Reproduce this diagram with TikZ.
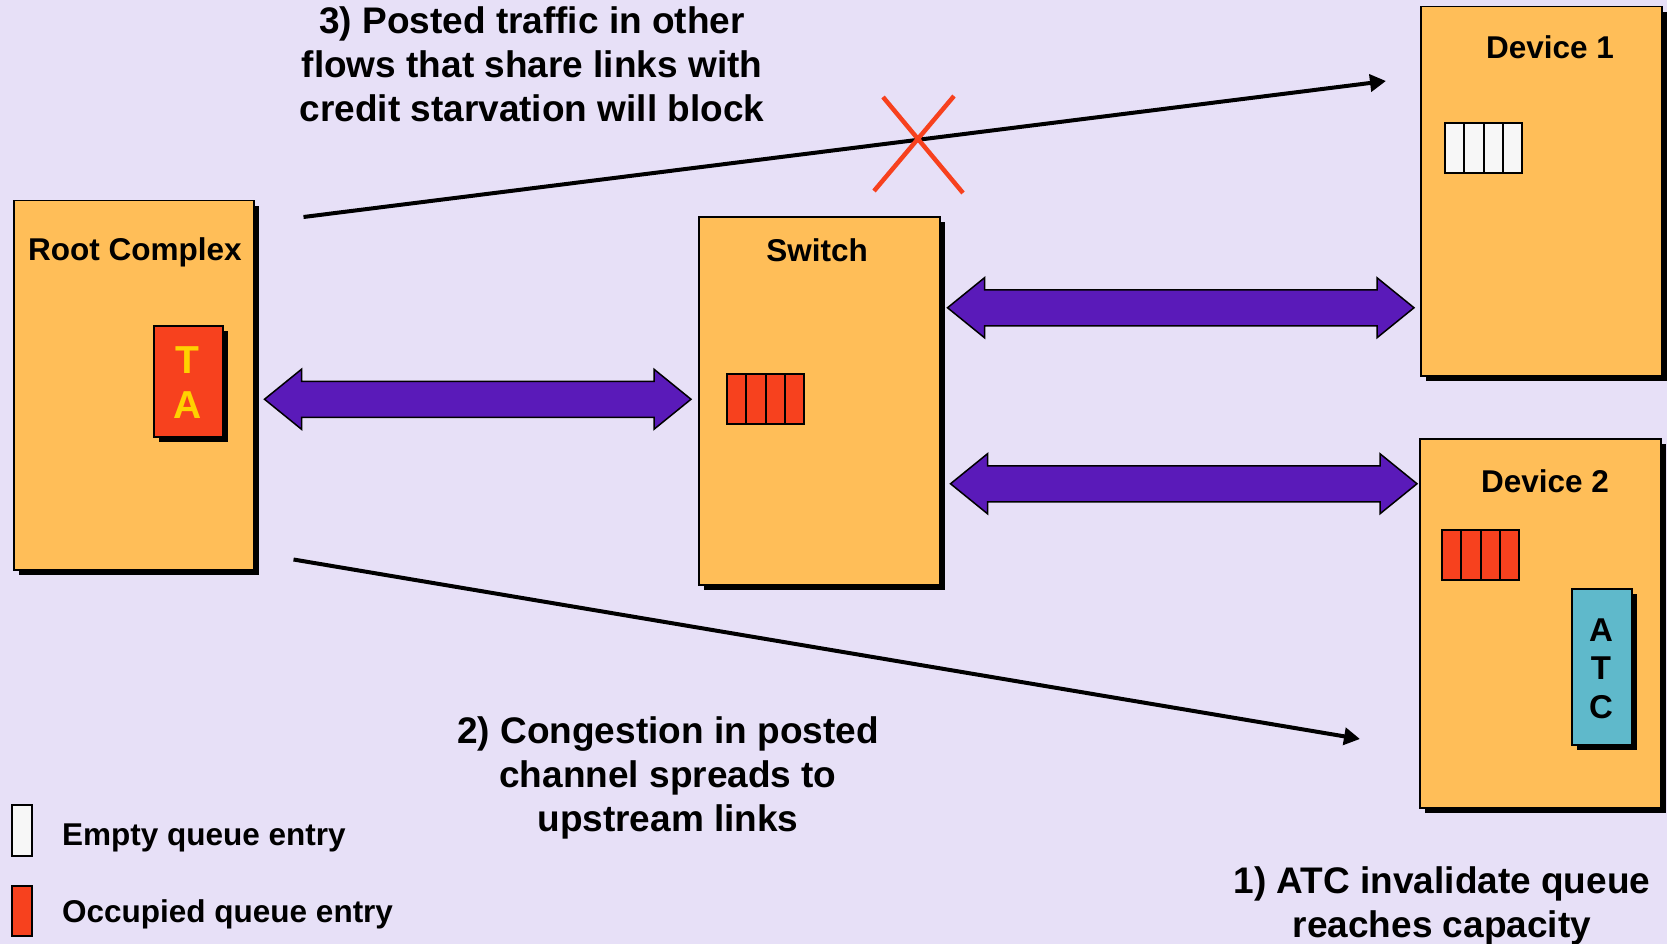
\documentclass[tikz,border=0pt]{standalone}
\usepackage{fontspec}
\setmainfont{Liberation Sans}
\usetikzlibrary{arrows.meta,calc,shadows}

\definecolor{bg}{HTML}{E7E0F7}
\definecolor{boxfill}{HTML}{FFBE58}
\definecolor{linkpurple}{HTML}{5A1AB9}
\definecolor{qred}{HTML}{F7411E}
\definecolor{atccyan}{HTML}{5FB9CB}
\definecolor{tayellow}{HTML}{FFD200}
\definecolor{qwhite}{HTML}{F7F7F7}

\tikzset{
  unitbox/.style={draw=black, line width=1.5pt, fill=boxfill, inner sep=0pt,
    anchor=north west,
    drop shadow={shadow xshift=5pt, shadow yshift=-5pt, opacity=1, fill=black}},
  unitlabel/.style={font=\fontsize{31.5}{38}\selectfont\bfseries, inner sep=0pt, anchor=base},
  note/.style={font=\fontsize{37}{44}\selectfont\bfseries, align=center, inner sep=0pt, anchor=base},
  legendtext/.style={font=\fontsize{31.5}{38}\selectfont\bfseries, inner sep=0pt, anchor=base west},
  qcell/.style={draw=black, line width=2pt},
  fatlink/.style={draw=black, line width=1.5pt, fill=linkpurple, line join=miter},
  flow/.style={line width=4pt, -{Triangle[length=16pt,width=17pt]}},
  blocked/.style={draw=qred, line width=4.5pt},
}

% fat double-headed link between two tips (drawn at the height of the first one)
\newcommand\dblarrow[2]{%
  \path[fatlink] let \p1=(#1), \p2=(#2) in
    (\x1,\y1) -- (\x1+37pt,\y1+30pt) -- (\x1+37pt,\y1+18pt) -- (\x2-37pt,\y1+18pt)
    -- (\x2-37pt,\y1+30pt) -- (\x2,\y1) -- (\x2-37pt,\y1-30pt) -- (\x2-37pt,\y1-18pt)
    -- (\x1+37pt,\y1-18pt) -- (\x1+37pt,\y1-30pt) -- cycle;}

% four-entry queue with top-left corner (#1,#2)
\newcommand\queue[3]{%
  \foreach \i in {0,...,3}
    \draw[qcell, fill=#3] ({#1+\i*19.25},#2) rectangle ++(19.25,50);}

\begin{document}
\begin{tikzpicture}[x=1pt, y=-1pt]
  \fill[bg] (0,0) rectangle (1667,944);
  \useasboundingbox (0,0) rectangle (1667,944);

  % units
  \node[unitbox, minimum width=240pt, minimum height=369pt] (rc) at (13,200) {};
  \node[unitbox, minimum width=241pt, minimum height=368pt] (sw) at (698,216) {};
  \node[unitbox, minimum width=241pt, minimum height=369pt] (d1) at (1420,6) {};
  \node[unitbox, minimum width=241pt, minimum height=369pt] (d2) at (1419,438) {};

  \node[unitlabel] (rclbl) at (135,260) {Root Complex};
  \node[unitlabel] (swlbl) at (817,261) {Switch};
  \node[unitlabel] (d1lbl) at (1550,59) {Device 1};
  \node[unitlabel] (d2lbl) at (1545,492) {Device 2};

  % translation agent in the root complex
  \node[unitbox, fill=qred, minimum width=69pt, minimum height=111pt] (ta) at (153,325) {};
  \node[font=\fontsize{39}{44}\selectfont\bfseries, text=tayellow, inner sep=0pt, anchor=base] (taT) at (187.5,373) {T};
  \node[font=\fontsize{39}{44}\selectfont\bfseries, text=tayellow, inner sep=0pt, anchor=base] (taA) at (187.5,418) {A};

  % address translation cache in device 2
  \node[unitbox, fill=atccyan, minimum width=60pt, minimum height=156pt] (atc) at (1571,588) {};
  \node[font=\fontsize{33}{38}\selectfont\bfseries, inner sep=0pt, anchor=base] (atcA) at (1601,641) {A};
  \node[font=\fontsize{33}{38}\selectfont\bfseries, inner sep=0pt, anchor=base] (atcT) at (1601,679) {T};
  \node[font=\fontsize{33}{38}\selectfont\bfseries, inner sep=0pt, anchor=base] (atcC) at (1601,718) {C};

  % queues
  \queue{727}{374}{qred}
  \queue{1445}{123}{qwhite}
  \queue{1442}{530}{qred}

  % links
  \coordinate (l1a) at ($(rc.east)+(10,14)$);
  \coordinate (l1b) at ($(sw.west)+(-7,0)$);
  \coordinate (l2a) at ($(sw.east)+(7,-93)$);
  \coordinate (l2b) at ($(d1.west)+(-6,0)$);
  \coordinate (l3a) at ($(sw.east)+(10,83)$);
  \coordinate (l3b) at ($(d2.west)+(-2,0)$);
  \dblarrow{l1a}{l1b}
  \dblarrow{l2a}{l2b}
  \dblarrow{l3a}{l3b}

  % posted flows
  \draw[flow] ($(rc.north east)+(49,17)$) -- ($(d1.north west)+(-34,75)$);
  \draw[flow] ($(rc.south east)+(39,-11)$) -- ($(d2.north west)+(-59,301)$);

  % blocked flow
  \draw[blocked] (883,97) -- (963,193);
  \draw[blocked] (954,96) -- (874,191);

  % annotations (node base is the last line)
  \node[note] (n3) at (532,122) {3) Posted traffic in other\\flows that share links with\\credit starvation will block};
  \node[note] (n2) at (668,831) {2) Congestion in posted\\channel spreads to\\upstream links};
  \node[note] (n1) at (1442,937) {1) ATC invalidate queue\\reaches capacity};

  % legend
  \draw[qcell, line width=1.5pt, fill=qwhite] (12,805) rectangle (32,856);
  \draw[qcell, line width=1.5pt, fill=qred] (12,886) rectangle (32,936);
  \node[legendtext] (lg1) at (62,845) {Empty queue entry};
  \node[legendtext] (lg2) at (62,922) {Occupied queue entry};
\end{tikzpicture}
\end{document}
